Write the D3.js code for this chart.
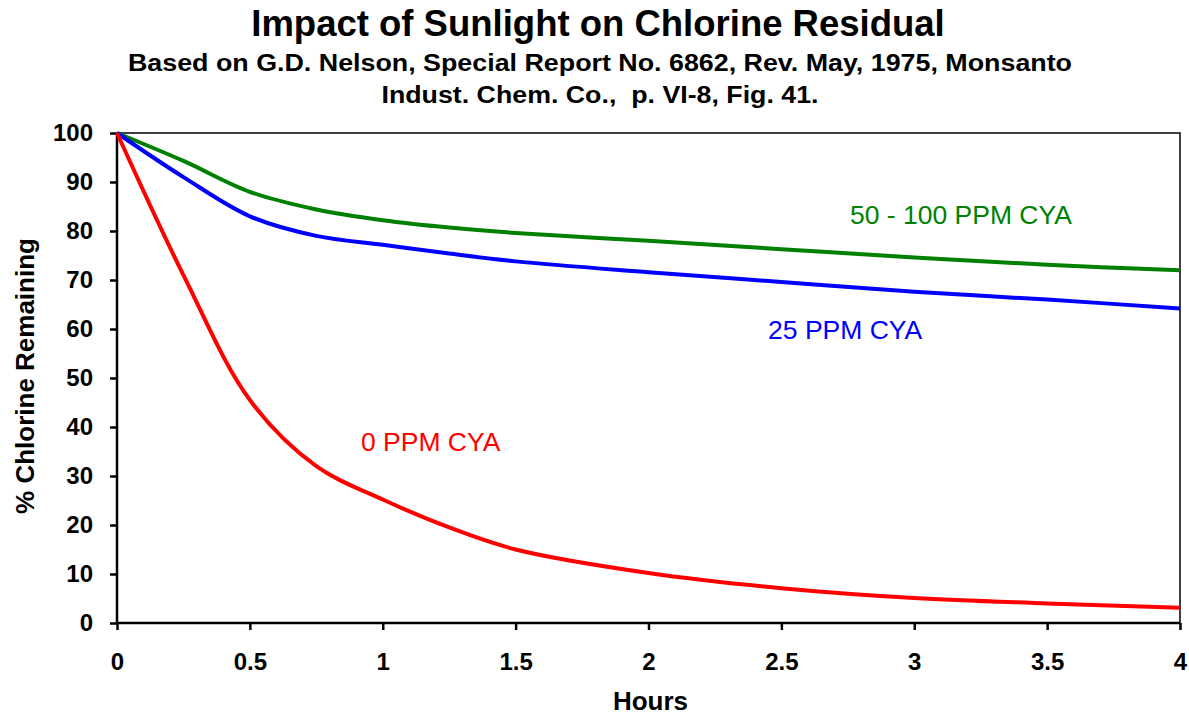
<!DOCTYPE html>
<html lang="en">
<head>
    <meta charset="UTF-8">
    <title>Impact of Sunlight on Chlorine Residual</title>
    <script src="https://d3js.org/d3.v7.min.js"></script>
    <style>
        body { margin: 0; background: #fff; }
        svg text { font-family: "Liberation Sans", Arial, Helvetica, sans-serif; }
    </style>
</head>
<body>
<div id="chart"></div>
<script>
  // Data (hours vs % chlorine remaining)
  const hours      = [0, 0.25, 0.5, 0.75, 1, 1.25, 1.5, 2, 2.5, 3, 3.5, 4];
  const cya0       = [100, 71, 45.5, 32, 25.2, 19.5, 15, 10.2, 7.1, 5.1, 4.0, 3.1];
  const cya25      = [100, 91, 83, 79, 77.2, 75.4, 73.8, 71.6, 69.6, 67.6, 66, 64.2];
  const cya50to100 = [100, 94.3, 88, 84.4, 82.2, 80.7, 79.6, 78, 76.3, 74.6, 73.1, 72];

  const xTicks = [0, 0.5, 1, 1.5, 2, 2.5, 3, 3.5, 4];
  const yTicks = [0, 10, 20, 30, 40, 50, 60, 70, 80, 90, 100];

  const seriesNames  = ["0 PPM CYA", "25 PPM CYA", "50 - 100 PPM CYA"];
  const seriesColors = ["#ff0000", "#0000ff", "#008000"];
  // label anchor in data units (hours, %)
  const labelHours = [0.918, 2.45, 2.758];
  const labelPct   = [35.1, 58, 81.4];

  const W = 1189, H = 715;
  const margin = { top: 133, right: 9, bottom: 92, left: 117 };
  const width = W - margin.left - margin.right,
        height = H - margin.top - margin.bottom;

  const svg = d3.select("#chart").append("svg")
      .attr("width", W)
      .attr("height", H);

  // titles (subtitle in the original is a bit stretched horizontally)
  svg.append("text")
      .attr("x", 598).attr("y", 36)
      .attr("text-anchor", "middle")
      .style("font-size", "36.5px").style("font-weight", "bold")
      .text("Impact of Sunlight on Chlorine Residual");
  svg.append("text")
      .attr("x", 600).attr("y", 71)
      .attr("text-anchor", "middle")
      .attr("textLength", 944).attr("lengthAdjust", "spacingAndGlyphs")
      .style("font-size", "23px").style("font-weight", "bold")
      .text("Based on G.D. Nelson, Special Report No. 6862, Rev. May, 1975, Monsanto");
  svg.append("text")
      .attr("x", 600).attr("y", 103)
      .attr("text-anchor", "middle")
      .attr("textLength", 437).attr("lengthAdjust", "spacingAndGlyphs")
      .style("font-size", "23px").style("font-weight", "bold")
      .style("white-space", "pre")
      .text("Indust. Chem. Co.,  p. VI-8, Fig. 41.");

  const g = svg.append("g")
      .attr("transform", `translate(${margin.left},${margin.top})`);

  const x = d3.scaleLinear().domain([0, 4]).range([0, width]);
  const y = d3.scaleLinear().domain([0, 100]).range([height, 0]);

  // plot frame (top and right)
  g.append("path")
      .attr("d", `M0,0H${width}V${height}`)
      .attr("fill", "none")
      .attr("stroke", "#000")
      .attr("stroke-width", 1.5);

  // axes
  const xAxis = g.append("g")
      .attr("transform", `translate(0,${height})`)
      .call(d3.axisBottom(x).tickValues(xTicks).tickSize(7).tickPadding(23)
        .tickFormat(d3.format("")));
  const yAxis = g.append("g")
      .call(d3.axisLeft(y).tickValues(yTicks).tickSize(7).tickPadding(17));

  [xAxis, yAxis].forEach(a => {
    a.select(".domain").attr("stroke-width", 2.5);
    a.selectAll(".tick line").attr("stroke-width", 2.5);
    a.selectAll(".tick text")
      .style("font-family", '"Liberation Sans", Arial, sans-serif')
      .style("font-size", "24px").style("font-weight", "bold")
      .attr("fill", "#000");
  });
  xAxis.select(".domain").attr("d", `M0,0H${width}`);
  yAxis.select(".domain").attr("d", `M0,${height}V0`);

  // axis titles
  svg.append("text")
      .attr("transform", `translate(34,${margin.top + height / 2 - 2}) rotate(-90)`)
      .attr("text-anchor", "middle")
      .style("font-size", "26px").style("font-weight", "bold")
      .text("% Chlorine Remaining");
  svg.append("text")
      .attr("x", margin.left + width / 2 + 2).attr("y", 710)
      .attr("text-anchor", "middle")
      .style("font-size", "26px").style("font-weight", "bold")
      .text("Hours");

  // lines
  const line = d3.line()
      .x(d => x(d[0]))
      .y(d => y(d[1]))
      .curve(d3.curveCatmullRom.alpha(0.5));

  const seriesValues = [cya0, cya25, cya50to100];
  // draw green first so red ends up on top like the original
  [2, 1, 0].forEach(i => {
    g.append("path")
      .datum(hours.map((h, j) => [h, seriesValues[i][j]]))
      .attr("fill", "none")
      .attr("stroke", seriesColors[i])
      .attr("stroke-width", 4)
      .attr("stroke-linejoin", "round")
      .attr("d", line);
  });

  // series labels
  g.selectAll(".series-label")
    .data(seriesNames)
    .join("text")
      .attr("class", "series-label")
      .attr("x", (d, i) => x(labelHours[i]))
      .attr("y", (d, i) => y(labelPct[i]))
      .attr("fill", (d, i) => seriesColors[i])
      .style("font-size", "26.5px")
      .text(d => d);
</script>
</body>
</html>
